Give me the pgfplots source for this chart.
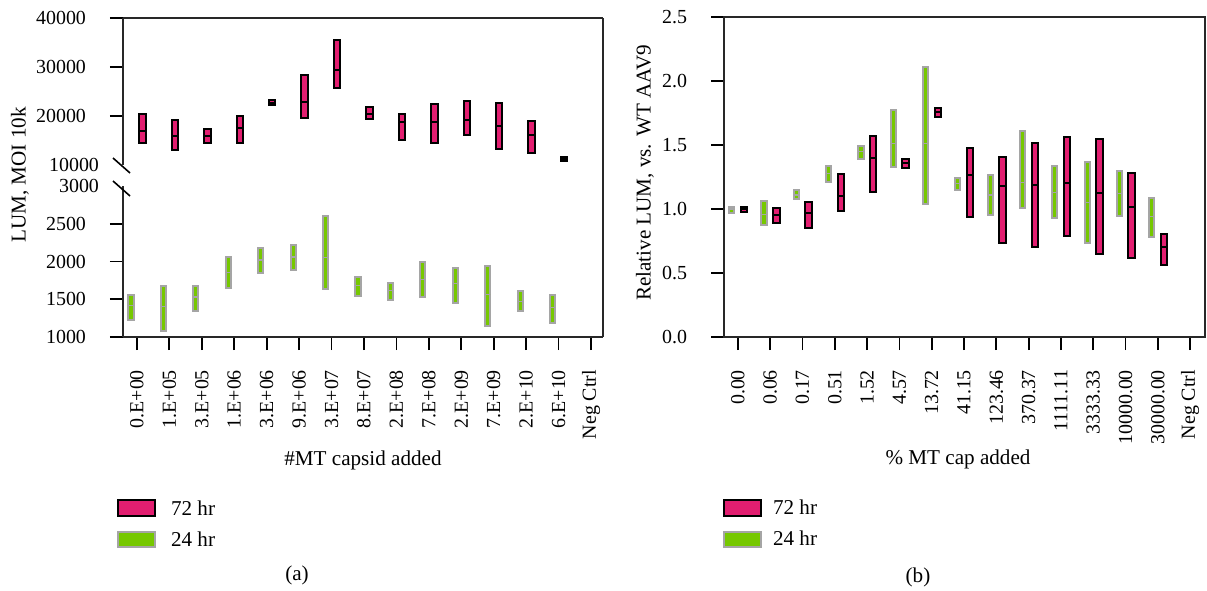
\documentclass[border=0pt]{standalone}
\usepackage{pgfplots}
\pgfplotsset{compat=1.18}
\usepackage{pgfplotstable}
\usepgfplotslibrary{statistics}
\usepackage{fontspec}
\setmainfont{Liberation Serif}

\definecolor{hr72}{RGB}{226,30,112}
\definecolor{hr24}{RGB}{118,200,0}
\definecolor{edge24}{RGB}{165,165,165}
\definecolor{frame}{RGB}{40,40,40}

% Each row: minimum, mean, maximum of one dose (rows follow the x categories)
% (a) luminescence, 72 hr
\pgfplotstableread{
lo mid hi
14550 17000 20340
13060 16000 19180
14420 16000 17350
14550 17500 20000
22180 22700 23270
19530 22900 28300
25780 29400 35450
19330 20500 21780
15100 18800 20470
14560 18800 22380
16190 19200 23060
13270 18000 22720
12520 16100 18980
10880 11300 11700
}\lumA
% (a) luminescence, 24 hr
\pgfplotstableread{
lo mid hi
1229 1418 1560
1075 1400 1678
1339 1530 1670
1648 1850 2058
1846 2020 2177
1890 2060 2220
1638 2050 2604
1537 1680 1794
1493 1620 1714
1529 1760 1987
1449 1710 1912
1150 1560 1943
1339 1470 1603
1185 1390 1560
}\lumB
% (b) relative luminescence, 72 hr
\pgfplotstableread{
lo mid hi
0.974 1.000 1.018
0.893 0.950 1.010
0.849 0.970 1.057
0.984 1.100 1.276
1.130 1.400 1.570
1.323 1.360 1.388
1.720 1.760 1.790
0.940 1.266 1.474
0.737 1.180 1.404
0.706 1.190 1.518
0.789 1.200 1.560
0.648 1.127 1.544
0.615 1.018 1.279
0.562 0.700 0.802
}\relA
% (b) relative luminescence, 24 hr
\pgfplotstableread{
lo mid hi
0.971 1.000 1.018
0.875 0.960 1.065
1.076 1.110 1.148
1.208 1.280 1.338
1.390 1.450 1.495
1.330 1.510 1.773
1.040 1.510 2.110
1.148 1.200 1.245
0.953 1.110 1.266
1.005 1.210 1.610
0.927 1.130 1.338
0.732 1.050 1.365
0.945 1.120 1.297
0.784 0.940 1.088
}\relB

\pgfplotsset{
  panel/.style={
    scale only axis,
    width=240bp,
    xmin=-0.43, xmax=14.37,
    tick align=outside,
    major tick length=6.5bp,
    every tick/.style={black, line width=0.9bp},
    axis line style={line width=0.8bp, frame},
    ytick pos=left, xtick pos=bottom,
    scaled y ticks=false,
    /pgf/number format/assume math mode=true,
    tick label style={font=\fontsize{10}{12}\selectfont},
    xticklabel style={rotate=90, anchor=east},
    xticklabel shift={6.5bp},
    yticklabel shift={8.5bp},
    boxplot/draw direction=y,
    clip=false,
  },
  span72/.style={
    fill=hr72, draw=black, line width=1bp,
    boxplot/box extend=0.2, boxplot/whisker extend=0,
    boxplot/every median/.style={draw=black, line width=1bp},
  },
  span24/.style={
    fill=hr24, draw=edge24, line width=1bp,
    boxplot/box extend=0.16, boxplot/whisker extend=0,
    boxplot/every median/.style={draw=edge24, line width=0.6bp},
  },
}

% min-max span with a mean line for every row of a table
% #1 table, #2 style, #3 shift from the category position
\newcommand{\spans}[3]{%
  \pgfplotsinvokeforeach{0,...,13}{%
    \pgfplotstablegetelem{##1}{lo}\of#1\edef\vlo{\pgfplotsretval}%
    \pgfplotstablegetelem{##1}{mid}\of#1\edef\vmid{\pgfplotsretval}%
    \pgfplotstablegetelem{##1}{hi}\of#1\edef\vhi{\pgfplotsretval}%
    \edef\doplot{\noexpand\addplot[#2, boxplot prepared={draw position=##1+#3,
        lower whisker=\vlo, lower quartile=\vlo, median=\vmid,
        upper quartile=\vhi, upper whisker=\vhi}] coordinates {};}%
    \doplot
  }%
}

\newcommand{\titlefont}{\fontsize{10.6}{12.5}\selectfont}

\begin{document}
\begin{tikzpicture}
\useasboundingbox (0,0) rectangle (603.5bp,-295.5bp);

% (a) upper segment of the broken axis (no tick mark at the break)
\begin{axis}[panel, at={(61.5bp,-9bp)}, anchor=north west, height=73.5bp,
  ymin=10000, ymax=40000, ytick={20000,30000,40000},
  extra y ticks={10000}, extra y tick style={major tick length=0pt},
  axis x line=none, axis y line*=left, xtick=\empty,
  yticklabel style={/pgf/number format/1000 sep={}},
]
  \spans{\lumA}{span72}{0.17}
  \draw[line width=0.8bp, frame] (rel axis cs:0,1) -- (rel axis cs:1,1);
\end{axis}

% (a) lower segment of the broken axis
\begin{axis}[panel, at={(61.5bp,-93bp)}, anchor=north west, height=75.5bp,
  ymin=1000, ymax=3000, ytick={1000,1500,2000,2500},
  extra y ticks={3000}, extra y tick style={major tick length=0pt},
  axis x line*=bottom, axis y line*=left,
  xtick={0,...,14},
  xticklabels={0.E+00,1.E+05,3.E+05,1.E+06,3.E+06,9.E+06,3.E+07,8.E+07,2.E+08,7.E+08,2.E+09,7.E+09,2.E+10,6.E+10,Neg Ctrl},
  yticklabel style={/pgf/number format/1000 sep={}},
]
  \spans{\lumB}{span24}{-0.185}
\end{axis}

% right frame edge and axis break marks of (a)
\draw[line width=0.8bp, frame] (301.5bp,-9bp) -- (301.5bp,-168.5bp);
\draw[line width=0.8bp, black] (56.5bp,-79bp) -- (65bp,-86.5bp);
\draw[line width=0.8bp, black] (56.5bp,-90.5bp) -- (65bp,-98bp);

% (b)
\begin{axis}[panel, at={(362bp,-8.5bp)}, anchor=north west,
  width=240.5bp, height=160bp, xmin=-0.43, xmax=14.46,
  ymin=0, ymax=2.5, ytick={0,0.5,...,2.5},
  yticklabel style={/pgf/number format/.cd, fixed, fixed zerofill, precision=1},
  xtick={0,...,14},
  xticklabels={0.00,0.06,0.17,0.51,1.52,4.57,13.72,41.15,123.46,370.37,1111.11,3333.33,10000.00,30000.00,Neg Ctrl},
]
  \spans{\relB}{span24}{-0.19}
  \spans{\relA}{span72}{0.19}
\end{axis}

% axis titles
\node[rotate=90, font=\titlefont] at (10bp,-87.5bp) {LUM, MOI 10k};
\node[rotate=90, font=\titlefont] at (322.5bp,-86.5bp) {Relative LUM, vs. WT AAV9};
\node[font=\titlefont] at (181.5bp,-230bp) {\#MT capsid added};
\node[font=\titlefont] at (479bp,-229.5bp) {\% MT cap added};

% keys
\foreach \x in {59bp,362bp}{
  \draw[fill=hr72, draw=black, line width=0.6bp] (\x,-250bp) rectangle ++(18.5bp,-8bp);
  \draw[fill=hr24, draw=edge24, line width=0.6bp] (\x,-266bp) rectangle ++(18.5bp,-7.5bp);
}
\node[anchor=west, font=\titlefont] at (82bp,-254bp) {72 hr};
\node[anchor=west, font=\titlefont] at (82bp,-269.5bp) {24 hr};
\node[anchor=west, font=\titlefont] at (383bp,-253.5bp) {72 hr};
\node[anchor=west, font=\titlefont] at (383bp,-269bp) {24 hr};

% panel captions
\node[font=\titlefont] at (148.5bp,-287.5bp) {(a)};
\node[font=\titlefont] at (459bp,-288.5bp) {(b)};
\end{tikzpicture}
\end{document}
